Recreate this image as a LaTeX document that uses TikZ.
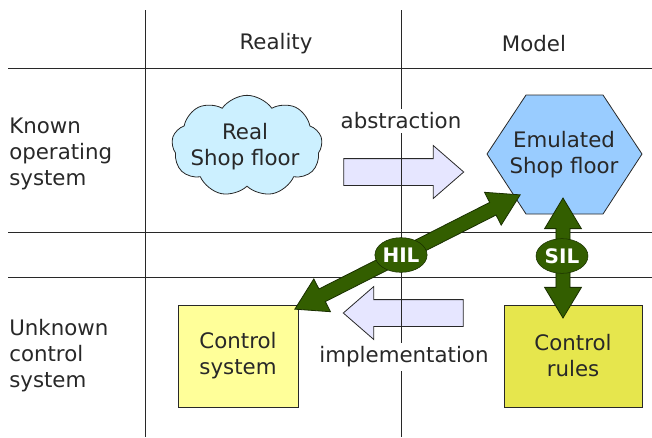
\documentclass[tikz,border=0pt]{standalone}
\usepackage{fontspec}
\setmainfont{DejaVu Sans}
\usetikzlibrary{shapes.geometric,shapes.arrows,shapes.symbols,positioning}

\definecolor{cloudblue}{RGB}{204,240,255}
\definecolor{hexblue}{RGB}{153,204,255}
\definecolor{lavender}{RGB}{230,230,255}
\definecolor{paleyellow}{RGB}{255,255,153}
\definecolor{darkyellow}{RGB}{230,230,77}
\definecolor{leafgreen}{RGB}{51,94,0}
\definecolor{inkgray}{RGB}{40,40,40}

\begin{document}
\begin{tikzpicture}[
    x=0.75pt, y=-0.75pt,
    every node/.style={font=\fontsize{16}{19.5}\selectfont, text=inkgray},
    grid_line/.style={draw=inkgray, line width=0.75pt},
    flow_arrow/.style={single arrow, draw=inkgray, fill=lavender, line width=0.6pt, minimum height=90pt, minimum width=39pt, inner xsep=0pt, inner ysep=9.75pt, single arrow head extend=9.75pt, single arrow tip angle=82},
    link_arrow/.style={double arrow, draw=leafgreen!50!black, fill=leafgreen, line width=0.6pt, inner xsep=0pt, inner ysep=5pt, double arrow head extend=8.5pt, double arrow tip angle=62, minimum width=27pt},
    link_tag/.style={ellipse, draw=leafgreen!50!black, fill=leafgreen, text=white, font=\fontsize{15}{18}\selectfont\bfseries, inner sep=0pt, minimum width=39pt, minimum height=26pt},
    box_node/.style={rectangle, draw=inkgray, line width=0.6pt, minimum height=76.5pt, align=center},
    side_label/.style={anchor=west, align=left, inner sep=0pt},
    mid_label/.style={fill=white, inner sep=3pt}
]
\useasboundingbox (0,0) rectangle (652,437);

% Transfer arrows (lines run across them)
\node[flow_arrow] (abstr) at (396,172) {};
\node[flow_arrow, shape border rotate=180] (impl) at (411,313) {};

% Table grid
\draw[grid_line] (145,10) -- (145,437);
\draw[grid_line] (401,10) -- (401,437);
\draw[grid_line] (8,68) -- (652,68);
\draw[grid_line] (8,232) -- (652,232);
\draw[grid_line] (8,277) -- (652,277);

% Headers
\node (reality) at (276,44) {Reality};
\node (model) at (534,44) {Model};
\node[side_label] (known) at (9,154) {Known\\operating\\system};
\node[side_label] (unknown) at (9,356) {Unknown\\control\\system};

\node[mid_label] (abstrtxt) at (401,121) {abstraction};
\node[mid_label] (impltxt) at (404,357) {implementation};

% Reality side
\node[cloud, cloud puffs=9, cloud puff arc=110, draw=inkgray, fill=cloudblue, line width=0.6pt, minimum width=113pt, minimum height=76pt] (realcloud) at (247,146) {};
\node[align=center] (realtxt) at (245,147) {Real\\Shop floor};
\node[box_node, fill=paleyellow, minimum width=90pt] (ctrlsys) at (238,356) {Control\\system};

% Model side
\draw[draw=inkgray, fill=hexblue, line width=0.6pt] (487,154) -- (526,95) -- (603,95) -- (642,154) -- (603,214) -- (526,214) -- cycle;
\node[align=center] (emutxt) at (564,155) {Emulated\\Shop floor};
\node[box_node, fill=darkyellow, minimum width=103.5pt] (ctrlrules) at (573,356) {Control\\rules};

% Loops
\node[link_arrow, minimum height=189.5pt, rotate=26.9] (hilarrow) at (407.5,252) {};
\node[link_arrow, minimum height=90pt, rotate=90] (silarrow) at (563,258) {};
\node[link_tag] (hil) at (401,255) {HIL};
\node[link_tag] (sil) at (562,256) {SIL};

\end{tikzpicture}
\end{document}
